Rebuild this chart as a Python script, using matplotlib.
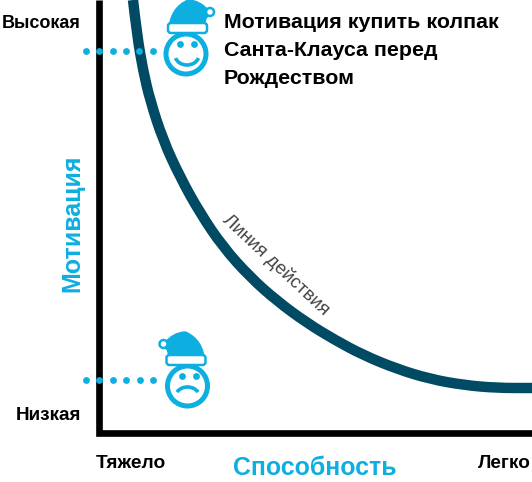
import matplotlib
matplotlib.use("Agg")
import matplotlib.pyplot as plt
from matplotlib.patches import Circle, FancyBboxPatch, PathPatch, Arc
from matplotlib.path import Path
import numpy as np

plt.rcParams['font.family'] = ['Liberation Sans', 'DejaVu Sans']

BLUE = '#0DAEE0'
DARK = '#004A63'

curve_x = [133, 137, 143, 150, 163, 180, 200, 223, 250, 277, 307, 335, 363, 397, 430, 463, 497, 532]
curve_y = [0, 35, 70, 100, 140, 177, 213, 247, 277, 301, 323, 340, 355, 369, 379, 385, 388, 388]
level_y = [51, 380]
dots_x = [[86, 99, 113, 126, 139, 153], [86, 99, 113, 126, 140, 153]]
x_labels = ['Тяжело', 'Легко']
y_labels = ['Высокая', 'Низкая']

fig = plt.figure(figsize=(5.32, 4.82), dpi=100)
ax = fig.add_axes([0, 0, 1, 1])
ax.set_xlim(0, 532)
ax.set_ylim(482, 0)
ax.axis('off')

# axes
ax.plot([99.3, 99.3, 532], [0, 432.7, 432.7], color='black', lw=4.8,
        solid_joinstyle='miter', solid_capstyle='butt', zorder=2)

# curve: smooth path through the points
pts = np.column_stack([curve_x, curve_y]).astype(float)
verts = [pts[0]]
codes = [Path.MOVETO]
for i in range(1, len(pts) - 1):
    verts += [pts[i], (pts[i] + pts[i + 1]) / 2]
    codes += [Path.CURVE3, Path.CURVE3]
verts.append(pts[-1])
codes.append(Path.LINETO)
ax.add_patch(PathPatch(Path(verts, codes), fc='none', ec=DARK, lw=7.5, capstyle='butt', zorder=3))

# dotted guides
for xs, y in zip(dots_x, level_y):
    ax.scatter(xs, [y] * len(xs), s=24, color=BLUE, linewidths=0, zorder=4)


def face(cx, cy, happy, flip):
    ax.add_patch(Circle((cx, cy), 20, fc='white', ec=BLUE, lw=3.6, zorder=5))
    ax.scatter([cx - 6, cx + 8], [cy - 10, cy - 10], s=24, color=BLUE, linewidths=0, zorder=6)
    if happy:
        ax.add_patch(Arc((cx + 1, cy + 1), 24, 20, theta1=15, theta2=165, color=BLUE, lw=2.6, zorder=6))
    else:
        ax.add_patch(Arc((cx, cy + 11), 24, 20, theta1=205, theta2=335, color=BLUE, lw=2.6, zorder=6))
    s = -1 if flip else 1
    hat = np.array([(-17, -24), (-16, -46), (2, -54), (14, -54), (24, -42),
                    (24, -38), (17, -38), (20, -24), (-17, -24)], dtype=float)
    hat_codes = [Path.MOVETO, Path.CURVE3, Path.CURVE3, Path.CURVE3, Path.CURVE3,
                 Path.LINETO, Path.CURVE3, Path.CURVE3, Path.CLOSEPOLY]
    hat[:, 0] = cx + s * hat[:, 0]
    hat[:, 1] = cy + hat[:, 1]
    ax.add_patch(PathPatch(Path(hat, hat_codes), fc=BLUE, ec=BLUE, lw=1, zorder=7))
    left = cx - 18 if not flip else cx - 21
    ax.add_patch(FancyBboxPatch((left, cy - 31), 39, 10, boxstyle='round,pad=0,rounding_size=3',
                                fc='white', ec=BLUE, lw=1.8, zorder=8))
    ax.add_patch(Circle((cx + s * 24, cy - 42), 4, fc='white', ec=BLUE, lw=1.8, zorder=8))


face(186, 54, True, False)
face(187.5, 386, False, True)

# labels
kw = dict(fontweight='bold', color='black', zorder=10)
ax.text(81, 23, y_labels[0], ha='right', va='center', fontsize=13, **kw)
ax.text(81, 415, y_labels[1], ha='right', va='center', fontsize=13.6, **kw)
ax.text(96, 463, x_labels[0], ha='left', va='center', fontsize=13.8, **kw)
ax.text(531, 463, x_labels[1], ha='right', va='center', fontsize=13.7, **kw)
for y, t in zip([23, 51, 78], ['Мотивация купить колпак', 'Санта-Клауса перед', 'Рождеством']):
    ax.text(224, y, t, ha='left', va='center', fontsize=15.4, **kw)
ax.text(314.5, 468, 'Способность', ha='center', va='center', fontsize=17.9, color=BLUE, fontweight='bold')
ax.text(72, 223, 'Мотивация', ha='center', va='center', rotation=90, fontsize=18, color=BLUE, fontweight='bold')
ax.text(276, 265, 'Линия действия', ha='center', va='center', rotation=-43, rotation_mode='anchor',
        fontsize=13.5, color='#444444')

fig.savefig('out.png', dpi=100)
